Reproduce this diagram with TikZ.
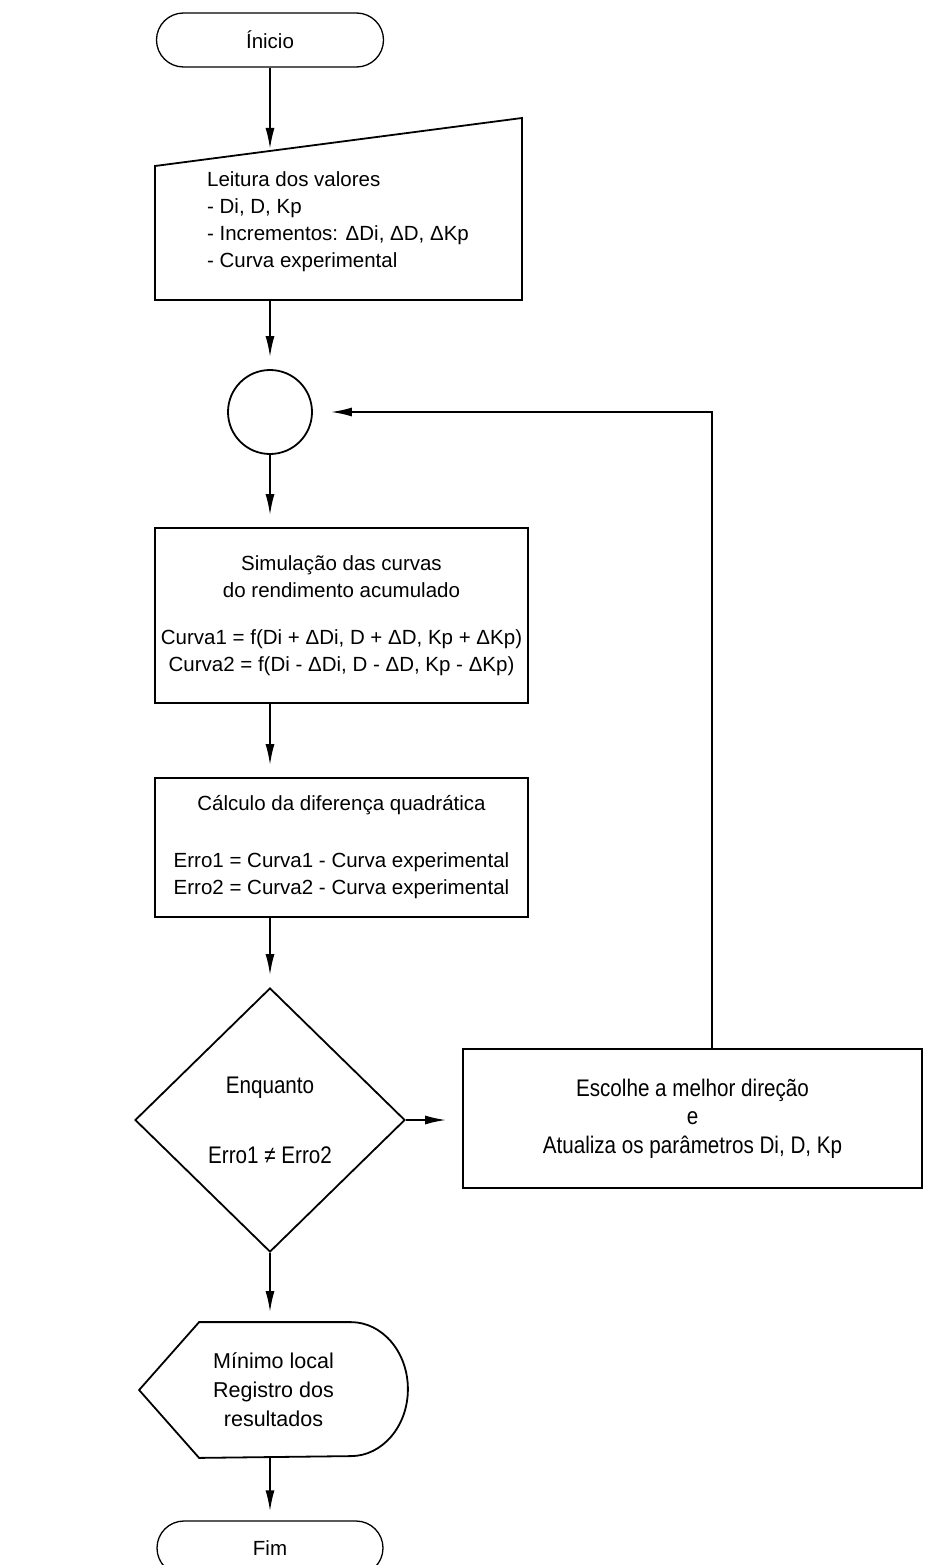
\documentclass[tikz,border=0pt]{standalone}
\usepackage{fontspec}
\setmainfont{Liberation Sans}
\newfontfamily\narrowfont{Liberation Sans}[FakeStretch=0.86]
\usetikzlibrary{shapes.geometric,shapes.misc,arrows.meta}
\tikzstyle{every picture}=[x=1pt,y=-1pt,line width=1.8pt]
\tikzstyle{every node}=[font=\fontsize{20.5}{27}\selectfont, inner sep=0pt]
\tikzstyle{terminal}=[rounded rectangle, draw, line width=1.3pt,
                      minimum width=227pt, minimum height=54pt]
\tikzstyle{process}=[rectangle, draw, align=center, minimum width=373pt]
\tikzstyle{flow}=[-{Latex[length=21pt,width=9pt]}, shorten >=12pt]

\begin{document}
\begin{tikzpicture}
      \useasboundingbox[fill=white] (0,0) rectangle (924,1565);
      \node[terminal] (start) at (270,40) {Ínicio};
      % manual input
      \draw (155,166) -- (522,118) -- (522,300) -- (155,300) -- cycle;
      \node[align=left] (read) at (338,222)
	{Leitura dos valores\\- Di, D, Kp\\- Incrementos: ΔDi, ΔD, ΔKp\\- Curva experimental};
      \coordinate (readin) at (270,150);
      \coordinate (readout) at (270,300);
      \node[circle, draw, minimum size=84pt] (join) at (270,412) {};
      \node[process, minimum height=175pt] (sim) at (341.5,615.5)
	{Simulação das curvas\\do rendimento acumulado\\[20pt]
	 Curva1 = f(Di + ΔDi, D + ΔD, Kp + ΔKp)\\Curva2 = f(Di - ΔDi, D - ΔD, Kp - ΔKp)};
      \node[process, minimum height=139pt] (calc) at (341.5,847.5)
	{Cálculo da diferença quadrática\\[30pt]
	 Erro1 = Curva1 - Curva experimental\\Erro2 = Curva2 - Curva experimental};
      \node[diamond, draw, minimum width=270pt, minimum height=264pt, align=center,
	font=\narrowfont\fontsize{24}{30}\selectfont] (test) at (270,1120)
	{Enquanto\\[40pt]Erro1 ≠ Erro2};
      \node[process, minimum width=459pt, minimum height=139pt,
	font=\narrowfont\fontsize{24}{28.5}\selectfont] (update) at (692.5,1118.5)
	{Escolhe a melhor direção\\e\\Atualiza os parâmetros Di, D, Kp};
      \coordinate (loop) at (712,412);
      % display
      \node[minimum width=267pt, minimum height=134pt, align=center,
	font=\fontsize{21.5}{29}\selectfont] (result) at (273.5,1390)
	{Mínimo local\\Registro dos\\resultados};
      \draw (result.west) -- ([xshift=60pt]result.north west)
	-- ([xshift=-57pt]result.north east)
	arc[start angle=-90, end angle=90, x radius=57, y radius=67]
	-- ([xshift=60pt]result.south west) -- cycle;
      \node[terminal, minimum width=226pt] (stop) at (270,1548) {Fim};
	\draw[flow, shorten >=1pt] (start) -- (readin);
	\draw[flow] (readout) -- (join);
	\draw[flow] (join) -- (join |- sim.north);
	\draw[flow] (join |- sim.south) -- (join |- calc.north);
	\draw[flow] (join |- calc.south) -- (test);
	\draw[flow, shorten >=16pt] (test.east) -- (test.east -| update.west);
	\draw[flow, shorten >=18pt] (update.north -| loop) -- (loop) -- (join.east);
	\draw[flow, shorten >=10pt] (test) -- (test |- result.north);
	\draw[flow, shorten >=9pt] (test |- result.south) -- (stop);
      \end{tikzpicture}
\end{document}
